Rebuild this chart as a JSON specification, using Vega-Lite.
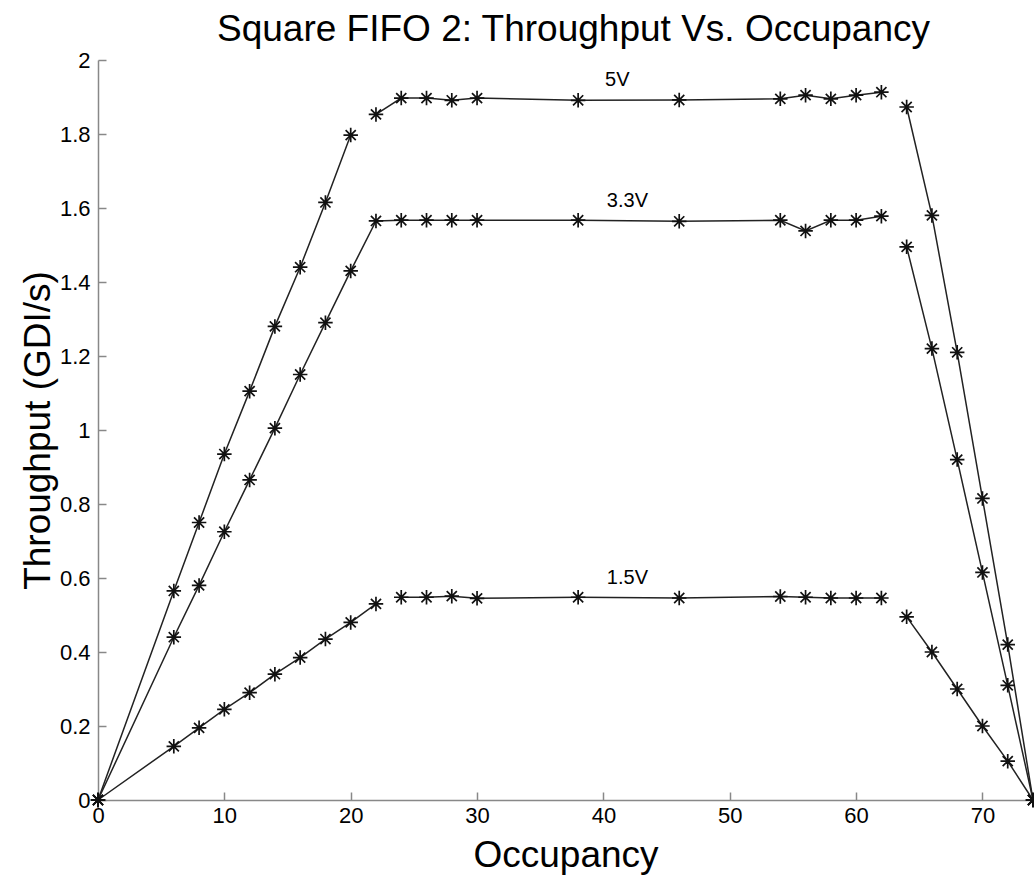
{
  "$schema": "https://vega.github.io/schema/vega-lite/v6.json",
  "autosize": "none",
  "width": 935,
  "height": 740,
  "padding": {"left": 98, "top": 60, "right": 1, "bottom": 77},
  "background": "white",
  "config": {
    "view": {"stroke": null},
    "font": "Liberation Sans"
  },
  "title": {
    "text": "Square FIFO 2: Throughput Vs. Occupancy",
    "fontSize": 37,
    "fontWeight": "normal",
    "font": "Liberation Sans",
    "color": "black",
    "anchor": "middle",
    "dx": 8,
    "offset": 0
  },
  "datasets": {
    "pts": [
      {"series": "5V", "seg": "a", "x": 0, "y": 0},
      {"series": "5V", "seg": "a", "x": 6, "y": 0.565},
      {"series": "5V", "seg": "a", "x": 8, "y": 0.75},
      {"series": "5V", "seg": "a", "x": 10, "y": 0.935},
      {"series": "5V", "seg": "a", "x": 12, "y": 1.105},
      {"series": "5V", "seg": "a", "x": 14, "y": 1.28},
      {"series": "5V", "seg": "a", "x": 16, "y": 1.44},
      {"series": "5V", "seg": "a", "x": 18, "y": 1.615},
      {"series": "5V", "seg": "a", "x": 20, "y": 1.797},
      {"series": "5V", "seg": "b", "x": 22, "y": 1.853},
      {"series": "5V", "seg": "b", "x": 24, "y": 1.897},
      {"series": "5V", "seg": "b", "x": 26, "y": 1.897},
      {"series": "5V", "seg": "b", "x": 28, "y": 1.891},
      {"series": "5V", "seg": "b", "x": 30, "y": 1.897},
      {"series": "5V", "seg": "b", "x": 38, "y": 1.891},
      {"series": "5V", "seg": "b", "x": 46, "y": 1.892},
      {"series": "5V", "seg": "b", "x": 54, "y": 1.895},
      {"series": "5V", "seg": "b", "x": 56, "y": 1.905},
      {"series": "5V", "seg": "b", "x": 58, "y": 1.895},
      {"series": "5V", "seg": "b", "x": 60, "y": 1.905},
      {"series": "5V", "seg": "b", "x": 62, "y": 1.913},
      {"series": "5V", "seg": "c", "x": 64, "y": 1.873},
      {"series": "5V", "seg": "c", "x": 66, "y": 1.58},
      {"series": "5V", "seg": "c", "x": 68, "y": 1.21},
      {"series": "5V", "seg": "c", "x": 70, "y": 0.815},
      {"series": "5V", "seg": "c", "x": 72, "y": 0.42},
      {"series": "5V", "seg": "c", "x": 74, "y": 0},
      {"series": "3.3V", "seg": "a", "x": 0, "y": 0},
      {"series": "3.3V", "seg": "a", "x": 6, "y": 0.44},
      {"series": "3.3V", "seg": "a", "x": 8, "y": 0.58},
      {"series": "3.3V", "seg": "a", "x": 10, "y": 0.725},
      {"series": "3.3V", "seg": "a", "x": 12, "y": 0.865},
      {"series": "3.3V", "seg": "a", "x": 14, "y": 1.005},
      {"series": "3.3V", "seg": "a", "x": 16, "y": 1.15},
      {"series": "3.3V", "seg": "a", "x": 18, "y": 1.29},
      {"series": "3.3V", "seg": "a", "x": 20, "y": 1.43},
      {"series": "3.3V", "seg": "a", "x": 22, "y": 1.565},
      {"series": "3.3V", "seg": "a", "x": 24, "y": 1.567},
      {"series": "3.3V", "seg": "a", "x": 26, "y": 1.567},
      {"series": "3.3V", "seg": "a", "x": 28, "y": 1.567},
      {"series": "3.3V", "seg": "a", "x": 30, "y": 1.567},
      {"series": "3.3V", "seg": "a", "x": 38, "y": 1.567},
      {"series": "3.3V", "seg": "a", "x": 46, "y": 1.564},
      {"series": "3.3V", "seg": "a", "x": 54, "y": 1.567},
      {"series": "3.3V", "seg": "a", "x": 56, "y": 1.538},
      {"series": "3.3V", "seg": "a", "x": 58, "y": 1.567},
      {"series": "3.3V", "seg": "a", "x": 60, "y": 1.567},
      {"series": "3.3V", "seg": "a", "x": 62, "y": 1.578},
      {"series": "3.3V", "seg": "c", "x": 64, "y": 1.495},
      {"series": "3.3V", "seg": "c", "x": 66, "y": 1.22},
      {"series": "3.3V", "seg": "c", "x": 68, "y": 0.92},
      {"series": "3.3V", "seg": "c", "x": 70, "y": 0.615},
      {"series": "3.3V", "seg": "c", "x": 72, "y": 0.31},
      {"series": "3.3V", "seg": "c", "x": 74, "y": 0},
      {"series": "1.5V", "seg": "a", "x": 0, "y": 0},
      {"series": "1.5V", "seg": "a", "x": 6, "y": 0.145},
      {"series": "1.5V", "seg": "a", "x": 8, "y": 0.195},
      {"series": "1.5V", "seg": "a", "x": 10, "y": 0.245},
      {"series": "1.5V", "seg": "a", "x": 12, "y": 0.29},
      {"series": "1.5V", "seg": "a", "x": 14, "y": 0.34},
      {"series": "1.5V", "seg": "a", "x": 16, "y": 0.385},
      {"series": "1.5V", "seg": "a", "x": 18, "y": 0.435},
      {"series": "1.5V", "seg": "a", "x": 20, "y": 0.48},
      {"series": "1.5V", "seg": "a", "x": 22, "y": 0.53},
      {"series": "1.5V", "seg": "b", "x": 24, "y": 0.548},
      {"series": "1.5V", "seg": "b", "x": 26, "y": 0.548},
      {"series": "1.5V", "seg": "b", "x": 28, "y": 0.551},
      {"series": "1.5V", "seg": "b", "x": 30, "y": 0.545},
      {"series": "1.5V", "seg": "b", "x": 38, "y": 0.548},
      {"series": "1.5V", "seg": "b", "x": 46, "y": 0.546},
      {"series": "1.5V", "seg": "b", "x": 54, "y": 0.55},
      {"series": "1.5V", "seg": "b", "x": 56, "y": 0.548},
      {"series": "1.5V", "seg": "b", "x": 58, "y": 0.546},
      {"series": "1.5V", "seg": "b", "x": 60, "y": 0.546},
      {"series": "1.5V", "seg": "b", "x": 62, "y": 0.546},
      {"series": "1.5V", "seg": "c", "x": 64, "y": 0.495},
      {"series": "1.5V", "seg": "c", "x": 66, "y": 0.4},
      {"series": "1.5V", "seg": "c", "x": 68, "y": 0.3},
      {"series": "1.5V", "seg": "c", "x": 70, "y": 0.2},
      {"series": "1.5V", "seg": "c", "x": 72, "y": 0.105},
      {"series": "1.5V", "seg": "c", "x": 74, "y": 0}
    ],
    "labels": [
      {"label": "5V", "x": 41.1, "y": 1.946},
      {"label": "3.3V", "x": 41.9, "y": 1.619},
      {"label": "1.5V", "x": 41.9, "y": 0.6}
    ]
  },
  "encoding": {
    "x": {
      "field": "x",
      "type": "quantitative",
      "scale": {"domain": [0, 74], "nice": false, "zero": false},
      "axis": {
        "title": "Occupancy",
        "titleFontSize": 37,
        "titleFontWeight": "normal",
        "titleColor": "black",
        "titleFont": "Liberation Sans",
        "titlePadding": 11,
        "values": [0, 10, 20, 30, 40, 50, 60, 70],
        "grid": false,
        "domainColor": "#888888",
        "domainWidth": 1.5,
        "tickColor": "#888888",
        "tickWidth": 1.5,
        "tickSize": -8,
        "labelFontSize": 22,
        "labelColor": "black",
        "labelFont": "Liberation Sans",
        "labelPadding": 13,
        "labelFlush": false
      }
    },
    "y": {
      "field": "y",
      "type": "quantitative",
      "scale": {"domain": [0, 2], "nice": false},
      "axis": {
        "title": "Throughput (GDI/s)",
        "titleFontSize": 37,
        "titleFontWeight": "normal",
        "titleColor": "black",
        "titleFont": "Liberation Sans",
        "titlePadding": 2,
        "values": [0, 0.2, 0.4, 0.6, 0.8, 1, 1.2, 1.4, 1.6, 1.8, 2],
        "format": "~g",
        "grid": false,
        "domainColor": "#888888",
        "domainWidth": 1.5,
        "tickColor": "#888888",
        "tickWidth": 1.5,
        "tickSize": -8,
        "labelFontSize": 22,
        "labelColor": "black",
        "labelFont": "Liberation Sans",
        "labelPadding": 16,
        "labelFlush": false
      }
    }
  },
  "layer": [
    {
      "data": {"name": "pts"},
      "mark": {"type": "line", "color": "#222222", "strokeWidth": 1.5},
      "encoding": {"detail": [{"field": "series"}, {"field": "seg"}], "order": {"field": "x"}}
    },
    {
      "data": {"name": "pts"},
      "mark": {
        "type": "point",
        "shape": "M-1,0L1,0M0,-1L0,1M-0.7,-0.7L0.7,0.7M-0.7,0.7L0.7,-0.7",
        "filled": false,
        "stroke": "#111111",
        "strokeWidth": 1.7,
        "size": 210,
        "opacity": 1
      }
    },
    {
      "data": {"name": "labels"},
      "mark": {"type": "text", "fontSize": 20, "font": "Liberation Sans", "color": "black"},
      "encoding": {"text": {"field": "label"}}
    }
  ]
}
